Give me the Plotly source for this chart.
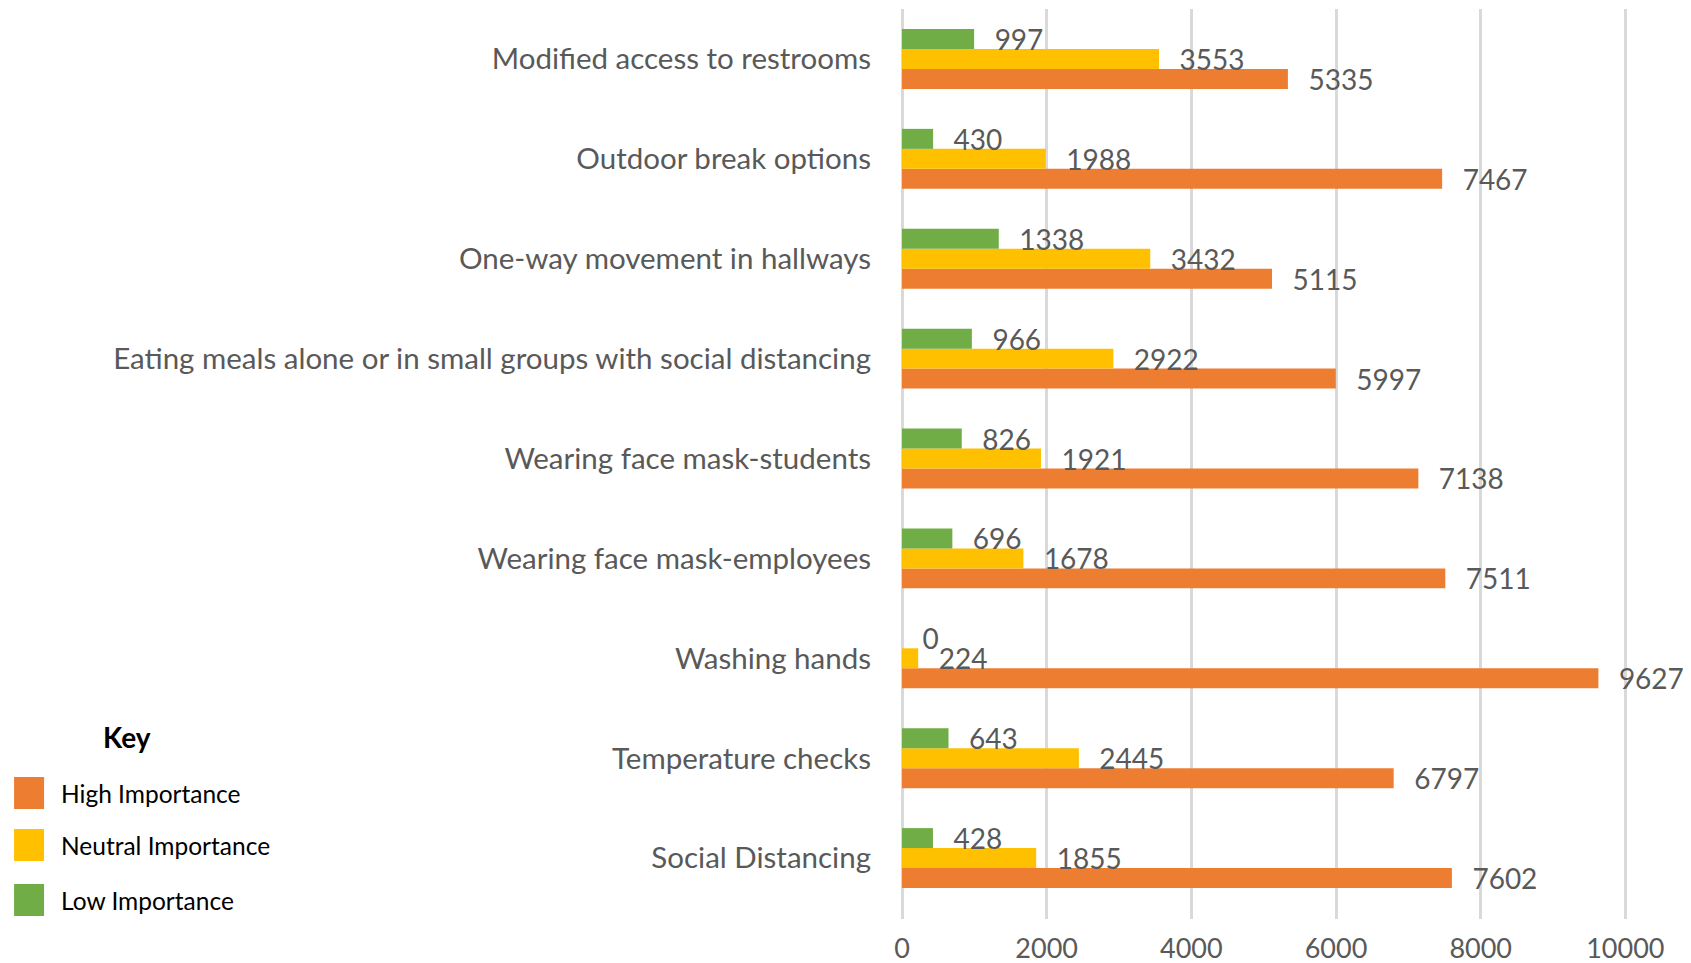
import plotly.graph_objects as go

# Categories listed top-to-bottom as in the chart
categories = [
    "Modified access to restrooms",
    "Outdoor break options",
    "One-way movement in hallways",
    "Eating meals alone or in small groups with social distancing",
    "Wearing face mask-students",
    "Wearing face mask-employees",
    "Washing hands",
    "Temperature checks",
    "Social Distancing",
]
high_importance = [5335, 7467, 5115, 5997, 7138, 7511, 9627, 6797, 7602]
neutral_importance = [3553, 1988, 3432, 2922, 1921, 1678, 224, 2445, 1855]
low_importance = [997, 430, 1338, 966, 826, 696, 0, 643, 428]

series_names = ["High Importance", "Neutral Importance", "Low Importance"]
series_colors = ["#ED7D31", "#FFC000", "#70AD47"]
series_values = [high_importance, neutral_importance, low_importance]

x_ticks = [0, 2000, 4000, 6000, 8000, 10000]

FONT = "Lato"
GREY = "#595959"

fig = go.Figure()
for name, color, vals in zip(series_names, series_colors, series_values):
    fig.add_trace(go.Bar(
        name=name,
        y=categories,
        x=vals,
        orientation="h",
        marker=dict(color=color, line=dict(width=0)),
        text=["\u2002\u2009" + str(v) for v in vals],
        textposition="outside",
        constraintext="none",
        cliponaxis=False,
        textfont=dict(family=FONT, size=28, color=GREY),
        showlegend=False,
    ))

W, H = 1691, 963
L, R, T, B = 901.5, 15, 8.6, 44
pw, ph = W - L - R, H - T - B


def px_x(x):
    return (x - L) / pw


def px_y(y):
    return (H - y - B) / ph


# Custom key (legend) at bottom-left
shapes = []
annotations = [dict(
    text="<b>Key</b>", x=px_x(126), y=px_y(737), xref="paper", yref="paper",
    xanchor="center", yanchor="middle",
    showarrow=False, font=dict(family=FONT, size=28, color="#000000"),
)]
key_tops = [777, 829, 884]
for name, color, top in zip(series_names, series_colors, key_tops):
    shapes.append(dict(type="rect", xref="paper", yref="paper",
                       x0=px_x(13), x1=px_x(43), y0=px_y(top + 32), y1=px_y(top),
                       fillcolor=color, line=dict(width=0)))
    annotations.append(dict(text=name, xref="paper", yref="paper",
                            x=px_x(58), y=px_y(top + 16), xanchor="left", yanchor="middle",
                            showarrow=False,
                            font=dict(family=FONT, size=24.5, color="#000000")))

fig.update_layout(
    width=W, height=H,
    margin=dict(l=L, r=R, t=T, b=B, autoexpand=False),
    paper_bgcolor="white", plot_bgcolor="white",
    barmode="group", bargap=0.4, bargroupgap=0,
    shapes=shapes, annotations=annotations,
    font=dict(family=FONT, color=GREY),
    xaxis=dict(
        range=[0, 10700], tickvals=x_ticks, ticktext=[str(t) for t in x_ticks],
        showgrid=True, gridcolor="#D9D9D9", gridwidth=2.5,
        zeroline=True, zerolinecolor="#D9D9D9", zerolinewidth=2.5,
        showline=False, ticks="", tickfont=dict(family=FONT, size=27, color=GREY),
        ticklabelstandoff=11,
    ),
    yaxis=dict(
        type="category", categoryorder="array", categoryarray=categories[::-1],
        range=[-0.61, 8.5], showgrid=False, zeroline=False, showline=False, ticks="",
        tickfont=dict(family=FONT, size=29.5, color=GREY),
        ticklabelstandoff=30,
    ),
)

fig.write_html(
    "out.html",
    config={"displayModeBar": False},
    post_script="document.body.style.margin='0';document.body.style.overflow='hidden';",
)
